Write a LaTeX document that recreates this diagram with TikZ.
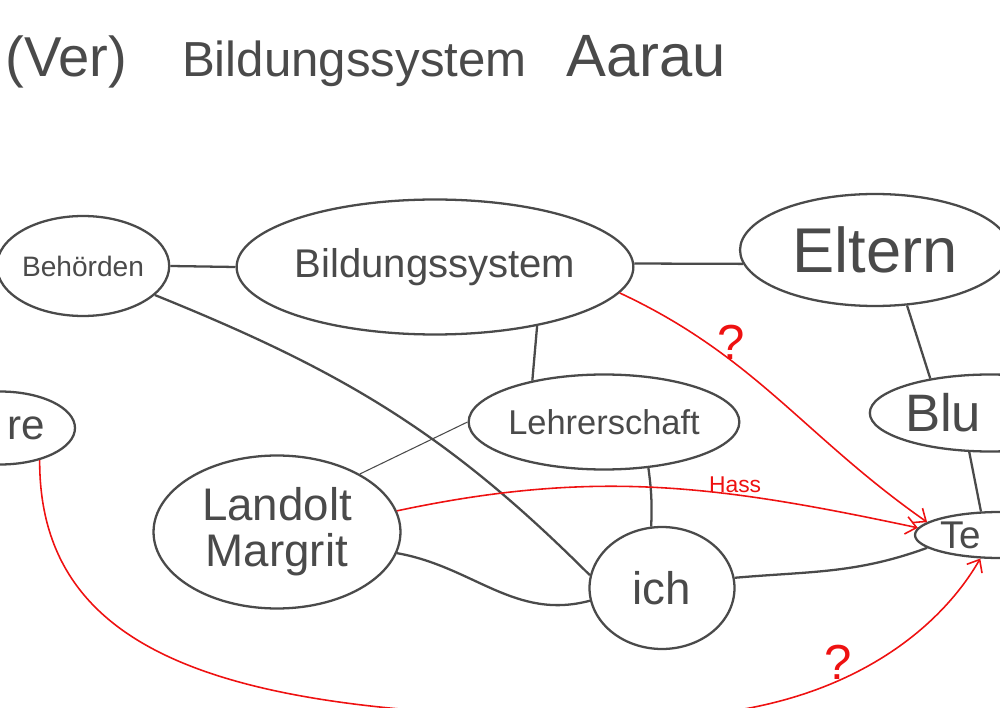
\documentclass[tikz,border=0pt]{standalone}
\usepackage{fontspec}
\setmainfont{Liberation Sans}
\usetikzlibrary{shapes.geometric,arrows.meta}
\definecolor{ink}{HTML}{4A4A4A}
\definecolor{pen}{HTML}{EE1111}
\newcommand{\fs}[1]{\fontsize{#1}{#1}\selectfont}

\begin{document}
\begin{tikzpicture}[x=0.02cm,y=0.02cm,
  bubble/.style={ellipse,draw=ink,line width=1.3pt,inner sep=0pt,text=ink},
  link/.style={draw=ink,line width=1.3pt},
  redlink/.style={draw=pen,line width=0.9pt,-{Straight Barb[length=6pt,width=10pt]}},
  note/.style={text=pen,inner sep=0.5pt}]
\useasboundingbox (0,0) rectangle (1000,707);
\clip (0,0) rectangle (1000,707);

% title
\node[anchor=west,inner sep=0pt,text=ink,font=\fs{28}] (title) at (5,645)
  {{\fs{32}(Ver)}\hspace{1.1cm}Bildungssystem\hspace{0.8cm}{\fs{34}Aarau}};

% nodes
\node[bubble,minimum width=3.4cm,minimum height=2cm,font=\fs{16}] (beh) at (83,441) {Behörden};
\node[bubble,minimum width=7.9cm,minimum height=2.7cm,font=\fs{22.8}] (bild) at (435,440) {Bildungssystem};
\node[bubble,minimum width=5.4cm,minimum height=2.24cm,font=\fs{36}] (elt) at (875,457) {Eltern};
\node[bubble,minimum width=5.3cm,minimum height=1.9cm,font=\fs{19.6}] (lehr) at (604,285) {Lehrerschaft};
\node[bubble,minimum width=4.94cm,minimum height=3.06cm,align=center,font=\fs{26}] (lan) at (277,175) {Landolt\\Margrit};
\node[bubble,minimum width=2.9cm,minimum height=2.44cm,font=\fs{26}] (ich) at (662,119) {ich};
\node[bubble,text width=3.4cm,align=left,minimum width=4.7cm,minimum height=1.54cm,font=\fs{30}] (blu) at (990,294) {Blu};
\node[bubble,text width=2.4cm,align=left,minimum width=3.4cm,minimum height=0.92cm,font=\fs{22}] (te) at (1000,172) {Te};
\node[bubble,text width=1.8cm,align=right,minimum width=3cm,minimum height=1.46cm,font=\fs{24}] (re) at (0,279) {re};

% connectors
\draw[link] (beh.east) -- (bild.west);
\draw[link] (bild.1) -- (elt.186);
\draw[link] (bild.-30) -- (lehr.150);
\draw[link] (beh.-22) to[out=-22,in=135] (ich.170);
\draw[ink,line width=0.6pt] (lehr.west) -- (lan.35);
\draw[link] (lehr.-46) to[bend left=5] (ich.100);
\draw[link] (lan.-10) to[out=-10,in=195] (ich.190);
\draw[link] (ich.8) to[out=5,in=200] (te.190);
\draw[link] (elt.-60) -- (blu.150);
\draw[link] (blu.-118) -- (te.129);

% red arrows
\draw[redlink] (bild.-8) to[out=-25,in=145] node[note,pos=0.33,anchor=south,font=\fs{28}] (q1) {?} (te.170);
\draw[redlink] (lan.10) to[out=12,in=168] node[note,pos=0.66,anchor=south,font=\fs{13}] (hass) {Hass} (te.175);
\draw[redlink] (re.-39) .. controls (39,40) and (250,-14) .. (650,-10)
  .. controls (830,-10) and (935,70) .. (te.-130) node[note,pos=0.42,anchor=south,font=\fs{28}] (q2) {?};
\end{tikzpicture}
\end{document}
